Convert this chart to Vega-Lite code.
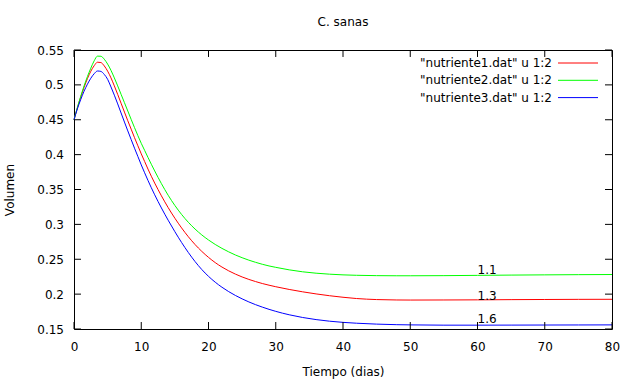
{
  "$schema": "https://vega.github.io/schema/vega-lite/v6.json",
  "width": 538,
  "height": 279,
  "autosize": {"type": "none"},
  "padding": {"left": 74, "top": 50, "right": 17, "bottom": 51},
  "background": "white",
  "title": {
    "text": "C. sanas",
    "font": "DejaVu Sans",
    "fontSize": 12,
    "fontWeight": "normal",
    "color": "black",
    "anchor": "middle",
    "baseline": "bottom",
    "offset": 3
  },
  "config": {
    "view": {"stroke": "black", "strokeWidth": 1, "fill": null},
    "axis": {
      "domain": false,
      "grid": false,
      "ticks": true,
      "tickSize": -7,
      "tickOpacity": 0,
      "labelOverlap": false,
      "labelFlush": false,
      "labelFont": "DejaVu Sans",
      "labelFontSize": 12,
      "labelColor": "black",
      "titleFont": "DejaVu Sans",
      "titleFontSize": 12,
      "titleFontWeight": "normal",
      "titleColor": "black"
    },
    "legend": {
      "labelFont": "DejaVu Sans",
      "labelFontSize": 12,
      "labelColor": "black"
    }
  },
  "datasets": {
    "curvas": [
      {"t": 0, "n1": 0.4500, "n2": 0.4500, "n3": 0.4500},
      {"t": 0.5, "n1": 0.4670, "n2": 0.4675, "n3": 0.4655},
      {"t": 1, "n1": 0.4825, "n2": 0.4835, "n3": 0.4790},
      {"t": 1.5, "n1": 0.4965, "n2": 0.4985, "n3": 0.4910},
      {"t": 2, "n1": 0.5090, "n2": 0.5120, "n3": 0.5010},
      {"t": 2.5, "n1": 0.5195, "n2": 0.5240, "n3": 0.5095},
      {"t": 3, "n1": 0.5275, "n2": 0.5345, "n3": 0.5160},
      {"t": 3.5, "n1": 0.5325, "n2": 0.5412, "n3": 0.5199},
      {"t": 4, "n1": 0.5320, "n2": 0.5410, "n3": 0.5193},
      {"t": 4.5, "n1": 0.5272, "n2": 0.5368, "n3": 0.5150},
      {"t": 5, "n1": 0.5197, "n2": 0.5298, "n3": 0.5080},
      {"t": 5.5, "n1": 0.5100, "n2": 0.5208, "n3": 0.4970},
      {"t": 6, "n1": 0.4985, "n2": 0.5100, "n3": 0.4852},
      {"t": 6.5, "n1": 0.4863, "n2": 0.4985, "n3": 0.4727},
      {"t": 7, "n1": 0.4737, "n2": 0.4865, "n3": 0.4597},
      {"t": 7.5, "n1": 0.4610, "n2": 0.4745, "n3": 0.4467},
      {"t": 8, "n1": 0.4485, "n2": 0.4625, "n3": 0.4340},
      {"t": 8.5, "n1": 0.4365, "n2": 0.4505, "n3": 0.4216},
      {"t": 9, "n1": 0.4243, "n2": 0.4387, "n3": 0.4092},
      {"t": 9.5, "n1": 0.4127, "n2": 0.4272, "n3": 0.3973},
      {"t": 10, "n1": 0.4011, "n2": 0.4162, "n3": 0.3853},
      {"t": 10.5, "n1": 0.3902, "n2": 0.4061, "n3": 0.3740},
      {"t": 11, "n1": 0.3793, "n2": 0.3960, "n3": 0.3630},
      {"t": 12, "n1": 0.3592, "n2": 0.3766, "n3": 0.3424},
      {"t": 13, "n1": 0.3409, "n2": 0.3584, "n3": 0.3235},
      {"t": 14, "n1": 0.3241, "n2": 0.3418, "n3": 0.3060},
      {"t": 15, "n1": 0.3088, "n2": 0.3271, "n3": 0.2895},
      {"t": 16, "n1": 0.2949, "n2": 0.3142, "n3": 0.2740},
      {"t": 17, "n1": 0.2823, "n2": 0.3030, "n3": 0.2597},
      {"t": 18, "n1": 0.2711, "n2": 0.2933, "n3": 0.2467},
      {"t": 19, "n1": 0.2613, "n2": 0.2849, "n3": 0.2353},
      {"t": 20, "n1": 0.2527, "n2": 0.2776, "n3": 0.2255},
      {"t": 21, "n1": 0.2452, "n2": 0.2712, "n3": 0.2171},
      {"t": 22, "n1": 0.2388, "n2": 0.2656, "n3": 0.2099},
      {"t": 23, "n1": 0.2334, "n2": 0.2606, "n3": 0.2036},
      {"t": 24, "n1": 0.2287, "n2": 0.2561, "n3": 0.1981},
      {"t": 25, "n1": 0.2246, "n2": 0.2522, "n3": 0.1932},
      {"t": 26, "n1": 0.2211, "n2": 0.2487, "n3": 0.1888},
      {"t": 27, "n1": 0.2180, "n2": 0.2456, "n3": 0.1849},
      {"t": 28, "n1": 0.2152, "n2": 0.2428, "n3": 0.1814},
      {"t": 29, "n1": 0.2128, "n2": 0.2404, "n3": 0.1782},
      {"t": 30, "n1": 0.2106, "n2": 0.2384, "n3": 0.1753},
      {"t": 32, "n1": 0.2067, "n2": 0.2348, "n3": 0.1704},
      {"t": 34, "n1": 0.2033, "n2": 0.2320, "n3": 0.1665},
      {"t": 36, "n1": 0.2003, "n2": 0.2300, "n3": 0.1635},
      {"t": 38, "n1": 0.1977, "n2": 0.2286, "n3": 0.1612},
      {"t": 40, "n1": 0.1955, "n2": 0.2276, "n3": 0.1595},
      {"t": 42, "n1": 0.1937, "n2": 0.2270, "n3": 0.1583},
      {"t": 45, "n1": 0.1922, "n2": 0.2265, "n3": 0.1570},
      {"t": 48, "n1": 0.1916, "n2": 0.2263, "n3": 0.1562},
      {"t": 50, "n1": 0.1915, "n2": 0.2263, "n3": 0.1559},
      {"t": 55, "n1": 0.1916, "n2": 0.2265, "n3": 0.1555},
      {"t": 60, "n1": 0.1918, "n2": 0.2269, "n3": 0.1555},
      {"t": 65, "n1": 0.1921, "n2": 0.2273, "n3": 0.1556},
      {"t": 70, "n1": 0.1923, "n2": 0.2276, "n3": 0.1557},
      {"t": 75, "n1": 0.1925, "n2": 0.2279, "n3": 0.1558},
      {"t": 80, "n1": 0.1926, "n2": 0.2281, "n3": 0.1559}
    ],
    "etiquetas": [
      {"t": 60, "v": 0.234, "texto": "1.1"},
      {"t": 60, "v": 0.198, "texto": "1.3"},
      {"t": 60, "v": 0.165, "texto": "1.6"}
    ],
    "marcas_x": [
      {"t": 0}, {"t": 10}, {"t": 20}, {"t": 30}, {"t": 40},
      {"t": 50}, {"t": 60}, {"t": 70}, {"t": 80}
    ],
    "marcas_y": [
      {"v": 0.15}, {"v": 0.2}, {"v": 0.25}, {"v": 0.3}, {"v": 0.35},
      {"v": 0.4}, {"v": 0.45}, {"v": 0.5}, {"v": 0.55}
    ]
  },
  "layer": [
    {
      "data": {"name": "curvas"},
      "transform": [{"fold": ["n1", "n2", "n3"], "as": ["serie", "v"]}],
      "mark": {"type": "line", "strokeWidth": 1, "interpolate": "monotone"},
      "encoding": {
        "x": {
          "field": "t", "type": "quantitative",
          "scale": {"domain": [0, 80], "nice": false, "zero": false},
          "axis": {"values": [0, 10, 20, 30, 40, 50, 60, 70, 80], "format": "d", "labelOverlap": false, "labelPadding": 19, "title": "Tiempo (dias)", "titlePadding": 14}
        },
        "y": {
          "field": "v", "type": "quantitative",
          "scale": {"domain": [0.15, 0.55], "nice": false, "zero": false},
          "axis": {"values": [0.15, 0.2, 0.25, 0.3, 0.35, 0.4, 0.45, 0.5, 0.55], "format": "~g", "labelOverlap": false, "labelPadding": 17.5, "title": "Volumen", "titlePadding": 20}
        },
        "color": {
          "field": "serie", "type": "nominal",
          "scale": {"domain": ["n1", "n2", "n3"], "range": ["#ff0000", "#00ff00", "#0000ff"]},
          "legend": {
            "title": null,
            "orient": "none",
            "legendX": 498,
            "legendY": 7,
            "padding": 0,
            "symbolType": "M-4,0H4",
            "symbolSize": 100,
            "symbolStrokeWidth": 1,
            "rowPadding": 5.3,
            "labelAlign": "right",
            "labelOffset": -32,
            "labelExpr": "'\"nutriente' + substring(datum.label, 1) + '.dat\" u 1:2'"
          }
        }
      }
    },
    {
      "data": {"name": "etiquetas"},
      "mark": {"type": "text", "align": "left", "baseline": "middle", "font": "DejaVu Sans", "fontSize": 12, "color": "black"},
      "encoding": {
        "x": {
          "field": "t", "type": "quantitative",
          "scale": {"domain": [0, 80], "nice": false, "zero": false},
          "axis": {"values": [0, 10, 20, 30, 40, 50, 60, 70, 80], "format": "d", "labelOverlap": false, "labelPadding": 19, "title": "Tiempo (dias)", "titlePadding": 14}
        },
        "y": {
          "field": "v", "type": "quantitative",
          "scale": {"domain": [0.15, 0.55], "nice": false, "zero": false},
          "axis": {"values": [0.15, 0.2, 0.25, 0.3, 0.35, 0.4, 0.45, 0.5, 0.55], "format": "~g", "labelOverlap": false, "labelPadding": 17.5, "title": "Volumen", "titlePadding": 20}
        },
        "text": {"field": "texto"}
      }
    },
    {
      "data": {"name": "marcas_x"},
      "mark": {"type": "rule", "color": "black", "strokeWidth": 1},
      "encoding": {
        "x": {
          "field": "t", "type": "quantitative",
          "scale": {"domain": [0, 80], "nice": false, "zero": false},
          "axis": {"values": [0, 10, 20, 30, 40, 50, 60, 70, 80], "format": "d", "labelOverlap": false, "labelPadding": 19, "title": "Tiempo (dias)", "titlePadding": 14}
        },
        "y": {
          "datum": 0.15, "type": "quantitative",
          "scale": {"domain": [0.15, 0.55], "nice": false, "zero": false},
          "axis": {"values": [0.15, 0.2, 0.25, 0.3, 0.35, 0.4, 0.45, 0.5, 0.55], "format": "~g", "labelOverlap": false, "labelPadding": 17.5, "title": "Volumen", "titlePadding": 20}
        },
        "y2": {"datum": 0.16}
      }
    },
    {
      "data": {"name": "marcas_x"},
      "mark": {"type": "rule", "color": "black", "strokeWidth": 1},
      "encoding": {
        "x": {
          "field": "t", "type": "quantitative",
          "scale": {"domain": [0, 80], "nice": false, "zero": false},
          "axis": {"values": [0, 10, 20, 30, 40, 50, 60, 70, 80], "format": "d", "labelOverlap": false, "labelPadding": 19, "title": "Tiempo (dias)", "titlePadding": 14}
        },
        "y": {
          "datum": 0.55, "type": "quantitative",
          "scale": {"domain": [0.15, 0.55], "nice": false, "zero": false},
          "axis": {"values": [0.15, 0.2, 0.25, 0.3, 0.35, 0.4, 0.45, 0.5, 0.55], "format": "~g", "labelOverlap": false, "labelPadding": 17.5, "title": "Volumen", "titlePadding": 20}
        },
        "y2": {"datum": 0.54}
      }
    },
    {
      "data": {"name": "marcas_y"},
      "mark": {"type": "rule", "color": "black", "strokeWidth": 1},
      "encoding": {
        "y": {
          "field": "v", "type": "quantitative",
          "scale": {"domain": [0.15, 0.55], "nice": false, "zero": false},
          "axis": {"values": [0.15, 0.2, 0.25, 0.3, 0.35, 0.4, 0.45, 0.5, 0.55], "format": "~g", "labelOverlap": false, "labelPadding": 17.5, "title": "Volumen", "titlePadding": 20}
        },
        "x": {
          "datum": 0, "type": "quantitative",
          "scale": {"domain": [0, 80], "nice": false, "zero": false},
          "axis": {"values": [0, 10, 20, 30, 40, 50, 60, 70, 80], "format": "d", "labelOverlap": false, "labelPadding": 19, "title": "Tiempo (dias)", "titlePadding": 14}
        },
        "x2": {"datum": 1.04}
      }
    },
    {
      "data": {"name": "marcas_y"},
      "mark": {"type": "rule", "color": "black", "strokeWidth": 1},
      "encoding": {
        "y": {
          "field": "v", "type": "quantitative",
          "scale": {"domain": [0.15, 0.55], "nice": false, "zero": false},
          "axis": {"values": [0.15, 0.2, 0.25, 0.3, 0.35, 0.4, 0.45, 0.5, 0.55], "format": "~g", "labelOverlap": false, "labelPadding": 17.5, "title": "Volumen", "titlePadding": 20}
        },
        "x": {
          "datum": 80, "type": "quantitative",
          "scale": {"domain": [0, 80], "nice": false, "zero": false},
          "axis": {"values": [0, 10, 20, 30, 40, 50, 60, 70, 80], "format": "d", "labelOverlap": false, "labelPadding": 19, "title": "Tiempo (dias)", "titlePadding": 14}
        },
        "x2": {"datum": 78.96}
      }
    }
  ]
}
